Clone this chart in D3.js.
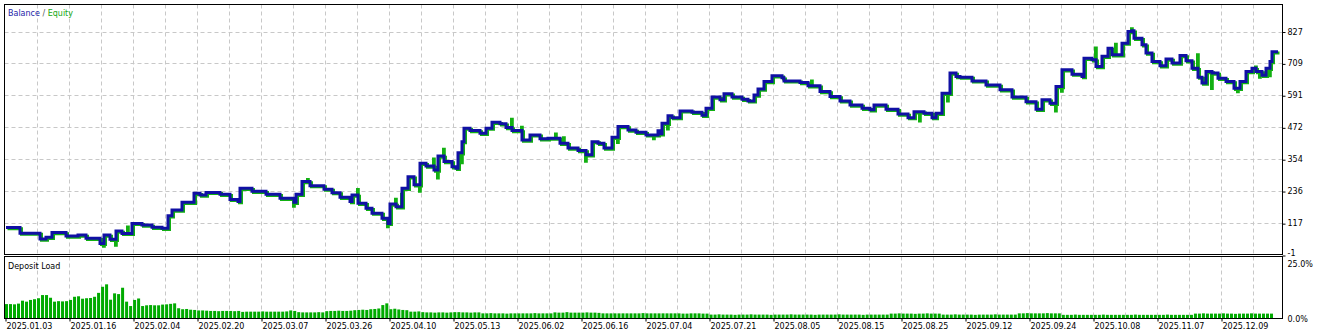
<!DOCTYPE html>
<html>
<head>
<meta charset="utf-8">
<script src="https://cdn.jsdelivr.net/npm/d3@7"></script>
<style>
  body { margin: 0; background: #fff; }
  svg { display: block; }
  text { font-family: "DejaVu Sans", sans-serif; font-size: 8px; fill: #000; }
</style>
</head>
<body>
<svg id="chart" width="1327" height="335"></svg>
<script>
const balTrade = [0, 7, 17, 20, 23, 30, 36, 40, 47, 49, 52, 55, 58, 63, 68, 73, 78, 81, 83, 88,
    94, 97, 100, 107, 112, 116, 117, 123, 130, 137, 144, 145, 148, 152, 159, 163, 167, 172, 173, 176,
    180, 183, 188, 191, 192, 195, 198, 201, 204, 207, 210, 214, 216, 219, 223, 225, 226, 228, 229, 232,
    237, 240, 243, 247, 250, 253, 258, 262, 267, 271, 277, 281, 286, 290, 293, 296, 299, 303, 306, 311,
    315, 320, 326, 327, 328, 331, 333, 337, 343, 348, 350, 353, 357, 359, 363, 368, 371, 374, 376, 379,
    383, 388, 389, 397, 401, 407, 412, 417, 422, 428, 432, 434, 440, 446, 451, 454, 459, 463, 465, 468,
    472, 475, 477, 483, 490, 497, 503, 510, 515, 518, 522, 525, 528, 533, 538, 539, 543, 545, 548, 551,
    553, 558, 561, 563, 564, 568, 570, 573, 577, 580, 583, 587, 590, 593, 596, 598, 600, 603, 606, 610,
    614, 617, 620, 623, 625, 628, 630, 632, 633, 636];
const balance = [101, 80, 58, 65, 82, 69, 73, 61, 42, 73, 57, 88, 79, 116, 110, 102, 98, 144, 166, 194,
    228, 221, 231, 224, 205, 197, 246, 235, 224, 209, 194, 224, 271, 256, 243, 230, 213, 197, 221, 191,
    172, 154, 135, 116, 188, 178, 246, 289, 259, 339, 329, 314, 366, 345, 326, 320, 378, 419, 469, 460,
    450, 469, 491, 485, 471, 460, 425, 444, 430, 432, 413, 395, 386, 370, 419, 413, 395, 435, 475, 462,
    454, 444, 459, 448, 487, 515, 508, 533, 528, 517, 543, 584, 574, 596, 584, 576, 570, 592, 614, 642,
    663, 656, 644, 638, 626, 605, 586, 570, 555, 543, 537, 555, 539, 521, 508, 530, 524, 508, 524, 598,
    673, 660, 658, 644, 629, 611, 584, 567, 539, 574, 561, 623, 685, 669, 660, 728, 722, 697, 735, 765,
    741, 784, 827, 830, 802, 778, 747, 716, 700, 725, 710, 738, 719, 691, 658, 636, 679, 673, 654, 642,
    617, 642, 679, 691, 679, 665, 691, 716, 752, 752];

// equity moves away from balance while trades are open
const spikeTrade = [48, 54, 60, 143, 150, 175, 190, 194, 197, 206, 213, 215, 218, 227, 252, 257, 274, 278,
    289, 305, 323, 330, 402, 456, 470, 524, 527, 544, 554, 562, 595, 602, 615, 624, 626, 631];
const spikeValue = [36, 40, 107, 184, 283, 246, 108, 210, 229, 240, 359, 289, 395, 345, 506, 477, 452, 438,
    351, 420, 434, 470, 648, 500, 574, 537, 610, 770, 784, 842, 745, 620, 608, 700, 662, 668];

// deposit load, percent
const depositLoad = [
    5.7, 5.7, 5.6, 5.9, 7.1, 6.7, 7.4, 7.7, 8.1, 9.4, 9.4, 8.3, 6.7, 6.9, 6.8, 6.9, 7.4, 8.7, 8.9, 7.9,
    8.1, 8.2, 8.7, 10.3, 12.8, 13.8, 7.5, 10.1, 9.8, 12.4, 6.7, 4.9, 7.4, 8.0, 4.9, 5.2, 5.3, 5.2, 5.2, 5.5,
    5.6, 5.8, 6.0, 4.0, 3.6, 3.7, 3.4, 3.3, 3.1, 3.1, 3.0, 2.9, 2.9, 2.8, 2.9, 2.9, 2.9, 2.8, 2.9, 2.5,
    2.6, 2.6, 2.6, 2.6, 2.7, 2.6, 2.6, 2.6, 2.6, 2.6, 2.7, 3.1, 2.9, 2.4, 2.3, 2.3, 2.3, 2.3, 2.4, 2.3,
    2.8, 2.9, 2.9, 3.0, 2.9, 2.9, 3.0, 3.2, 3.3, 3.4, 3.3, 3.6, 3.7, 3.9, 5.3, 6.0, 3.6, 3.8, 3.5, 3.3,
    3.2, 2.6, 2.6, 2.7, 2.4, 2.3, 2.3, 2.2, 2.3, 2.3, 2.2, 2.3, 2.4, 2.4, 2.3, 2.3, 2.2, 2.3, 2.3, 1.9,
    1.9, 2.0, 1.9, 1.9, 1.9, 1.8, 1.9, 1.9, 1.9, 1.9, 1.9, 1.9, 2.0, 1.9, 1.9, 1.9, 1.9, 2.3, 2.2, 2.2,
    2.4, 2.2, 2.2, 2.2, 2.2, 2.3, 2.2, 2.2, 2.1, 1.9, 1.9, 1.9, 1.9, 1.9, 1.9, 1.9, 1.9, 1.9, 1.9, 2.0,
    1.9, 1.9, 1.9, 1.9, 1.9, 1.9, 1.9, 1.9, 1.9, 1.8, 1.8, 1.9, 1.9, 1.9, 1.8, 1.8, 1.4, 1.4, 1.5, 1.4,
    1.4, 1.4, 1.3, 1.4, 1.4, 1.4, 1.5, 1.4, 1.4, 1.4, 1.4, 1.3, 1.4, 1.4, 1.4, 1.4, 1.5, 1.4, 1.4, 1.4,
    1.4, 1.4, 1.3, 1.4, 1.4, 1.4, 1.4, 1.4, 1.5, 1.4, 1.4, 1.4, 1.4, 1.4, 1.3, 1.4, 1.4, 1.4, 1.4, 1.4,
    1.4, 1.8, 1.8, 1.9, 1.8, 1.8, 1.8, 1.7, 1.8, 1.8, 1.9, 1.8, 1.8, 1.8, 1.4, 1.4, 1.4, 1.5, 1.4, 1.4,
    1.4, 1.4, 1.3, 1.4, 1.4, 1.4, 1.4, 1.5, 1.4, 1.4, 1.4, 1.4, 1.4, 1.9, 1.9, 2.0, 1.9, 1.9, 1.9, 1.9,
    2.0, 1.9, 1.9, 1.9, 1.3, 1.3, 1.3, 1.4, 1.3, 1.3, 1.3, 1.3, 1.3, 1.3, 1.4, 1.3, 1.3, 1.3, 1.3, 1.3,
    1.3, 1.3, 1.4, 1.3, 1.3, 1.3, 1.3, 1.3, 1.3, 1.3, 1.4, 1.3, 1.3, 1.3, 1.3, 1.3, 1.3, 1.8, 1.8, 1.9,
    1.8, 1.8, 1.8, 1.8, 1.9, 1.8, 1.8, 1.7, 1.8, 1.8, 1.8, 1.9, 1.8, 1.8, 1.8, 1.8, 1.8];

const dateLabels = ['2025.01.03', '2025.01.16', '2025.02.04', '2025.02.20', '2025.03.07', '2025.03.26',
    '2025.04.10', '2025.05.13', '2025.06.02', '2025.06.16', '2025.07.04', '2025.07.21', '2025.08.05',
    '2025.08.15', '2025.08.25', '2025.09.12', '2025.09.24', '2025.10.08', '2025.11.07', '2025.12.09'];
const yTicks = [-1, 117, 236, 354, 472, 591, 709, 827];
const loadTicks = [0, 25];

const svg = d3.select('#chart');

const panelLeft = 4.5;
const panelRight = 1282.5;
const mainTop = 4.5;
const mainBottom = 254.5;
const loadTop = 256.5;
const loadBottom = 318.5;

const x = d3.scaleLinear().domain([0, 636]).range([6, 1278]);
const y = d3.scaleLinear().domain([-1, 929]).range([255, 4]);
const xLabel = d3.scalePoint().domain(dateLabels).range([5.5, 1221.5]);
const xBar = d3.scaleBand().domain(d3.range(depositLoad.length)).range([5, 5 + 4 * depositLoad.length]).paddingInner(0.25);
const yLoad = d3.scaleLinear().domain([0, 25]).range([318, 257]);

// grid
const gridX = [];
dateLabels.forEach((d, i) => {
    if (i > 0) gridX.push(xLabel(d));
    gridX.push(xLabel(d) + 32);
});

const grid = svg.append('g')
    .attr('stroke', '#c8c8c8')
    .attr('stroke-dasharray', '4,3')
    .attr('fill', 'none');

grid.selectAll('line.h')
    .data(yTicks.filter(v => v > -1))
    .enter()
    .append('line')
    .attr('x1', panelLeft)
    .attr('x2', panelRight)
    .attr('y1', v => Math.round(y(v)) + 0.5)
    .attr('y2', v => Math.round(y(v)) + 0.5);

[[mainTop, mainBottom], [loadTop, loadBottom]].forEach(([t, b]) => {
    grid.append('g').selectAll('line')
        .data(gridX)
        .enter()
        .append('line')
        .attr('x1', d => d)
        .attr('x2', d => d)
        .attr('y1', t)
        .attr('y2', b);
});

// clip for the lines
svg.append('clipPath').attr('id', 'mainClip')
    .append('rect')
    .attr('x', panelLeft).attr('y', mainTop)
    .attr('width', panelRight - panelLeft).attr('height', mainBottom - mainTop);

const balPoints = balTrade.map((t, i) => ({ t: t, v: balance[i] }));

function balanceAt(t) {
    let v = balance[0];
    balTrade.forEach((bt, i) => { if (bt <= t) v = balance[i]; });
    return v;
}

// spikes are short: equity returns to balance shortly after
const eqPoints = balPoints.slice();
spikeTrade.forEach((t, i) => {
    eqPoints.push({ t: t, v: spikeValue[i] });
    eqPoints.push({ t: t + 0.4, v: balanceAt(t) });
});
eqPoints.sort((a, b) => a.t - b.t);

const line = d3.line()
    .x(d => x(d.t))
    .y(d => y(d.v))
    .curve(d3.curveStepAfter);

const lines = svg.append('g').attr('clip-path', 'url(#mainClip)');

lines.append('path')
    .datum(eqPoints)
    .attr('d', line)
    .attr('transform', 'translate(1.5,1.2)')
    .attr('fill', 'none')
    .attr('stroke', '#12b012')
    .attr('stroke-width', 3);

lines.append('path')
    .datum(balPoints)
    .attr('d', line)
    .attr('fill', 'none')
    .attr('stroke', '#1010a4')
    .attr('stroke-width', 3);

// deposit load bars
svg.append('g')
    .selectAll('rect')
    .data(depositLoad)
    .enter()
    .append('rect')
    .attr('x', (d, i) => xBar(i))
    .attr('width', xBar.bandwidth())
    .attr('y', d => yLoad(d))
    .attr('height', d => yLoad(0) - yLoad(d))
    .attr('fill', '#00aa00');

// panel frames
[[mainTop, mainBottom], [loadTop, loadBottom]].forEach(([t, b]) => {
    svg.append('rect')
        .attr('x', panelLeft)
        .attr('y', t)
        .attr('width', panelRight - panelLeft)
        .attr('height', b - t)
        .attr('fill', 'none')
        .attr('stroke', '#000')
        .attr('stroke-width', 1);
});

// right axis, balance
const yAxis = svg.append('g')
    .attr('transform', `translate(${panelRight},0)`)
    .call(d3.axisRight(y).tickValues(yTicks).tickSizeInner(3).tickSizeOuter(0).tickPadding(2).tickFormat(d => d));
yAxis.select('.domain').remove();
yAxis.selectAll('line').attr('stroke', '#000').attr('transform', 'translate(0,0.5)');
yAxis.attr('font-family', null).attr('font-size', null);
yAxis.selectAll('text').filter(d => d === -1).attr('dy', '0.1em');

// right axis, deposit load
const loadAxis = svg.append('g')
    .attr('transform', `translate(${panelRight},0)`)
    .call(d3.axisRight(yLoad).tickValues(loadTicks).tickSize(0).tickPadding(5).tickFormat(d => d.toFixed(1) + '%'));
loadAxis.select('.domain').remove();
loadAxis.attr('font-family', null).attr('font-size', null);
loadAxis.selectAll('text').filter(d => d === 25).attr('dy', '1.2em');
loadAxis.selectAll('text').filter(d => d === 0).attr('dy', '0.45em');

// bottom axis with dates
const xAxis = svg.append('g')
    .attr('transform', `translate(0,${loadBottom})`)
    .call(d3.axisBottom(xLabel).tickSizeInner(3).tickSizeOuter(0).tickPadding(2));
xAxis.select('.domain').remove();
xAxis.attr('font-family', null).attr('font-size', null);
xAxis.selectAll('line').attr('stroke', '#000');
xAxis.selectAll('text').attr('text-anchor', 'start').attr('dx', '0.5');

// titles
const legend = svg.append('text').attr('x', 8).attr('y', 16);
legend.append('tspan').text('Balance').style('fill', '#1c1ca8');
legend.append('tspan').text(' / ').style('fill', '#555');
legend.append('tspan').text('Equity').style('fill', '#16a816');

svg.append('text')
    .attr('x', 8)
    .attr('y', 269)
    .text('Deposit Load');
</script>
</body>
</html>
